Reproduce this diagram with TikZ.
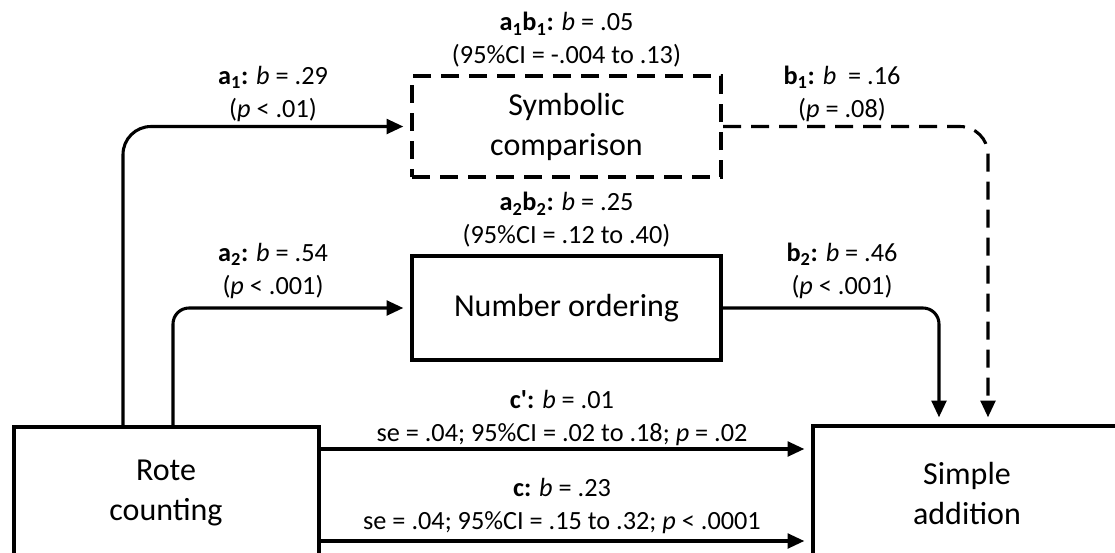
\documentclass[tikz,border=0pt]{standalone}
\usepackage{fontspec}
\setmainfont{Carlito}
\usetikzlibrary{arrows.meta}

\begin{document}
\begin{tikzpicture}[x=0.75pt,y=0.75pt,yscale=-1,xscale=1,
  box/.style={draw, line width=3pt, align=center, inner sep=0pt, font=\fontsize{24}{30}\selectfont},
  dbox/.style={box, dash pattern=on 13.5pt off 7.5pt},
  conn/.style={line width=2.3pt, -{Triangle[length=12.5pt,width=11pt]}, shorten >=5pt},
  dconn/.style={conn, dash pattern=on 13.5pt off 7.5pt},
  lbl/.style={align=center, inner sep=0pt, font=\fontsize{19.7}{24.75}\selectfont}]
%set diagram area to 1115 x 553, boxes at the bottom run off the edge
\useasboundingbox (0,0) rectangle (1115,553);
\clip (0,0) rectangle (1115,553);

% Text Node
\node (rote) [box, minimum width=228.75pt, minimum height=99pt] at (166,493) {Rote\\counting};
% Text Node
\node (add) [box, minimum width=231pt, minimum height=102pt] at (967,494) {Simple\\addition};
% Text Node
\node (sym) [dbox, minimum width=231.75pt, minimum height=75.75pt] at (566.5,126.5) {Symbolic\\comparison};
% Text Node
\node (num) [box, minimum width=231.75pt, minimum height=78pt] at (566.5,308) {Number ordering};

% Text Node
\node (lab1) [lbl] at (273,94) {\textbf{a\textsubscript{1}:} \textit{b} = .29\\(\textit{p} < .01)};
% Text Node
\node (lab2) [lbl] at (273,271) {\textbf{a\textsubscript{2}:} \textit{b} = .54\\(\textit{p} < .001)};
% Text Node
\node (lbb1) [lbl] at (842,94) {\textbf{b\textsubscript{1}:} \textit{b}\ \ = .16\\(\textit{p} = .08)};
% Text Node
\node (lbb2) [lbl] at (842,271) {\textbf{b\textsubscript{2}:} \textit{b} = .46\\(\textit{p} < .001)};
% Text Node
\node (lind1) [lbl] at (566.5,40) {\textbf{a\textsubscript{1}b\textsubscript{1}:} \textit{b} = .05\\(95\%CI = -.004 to .13)};
% Text Node
\node (lind2) [lbl] at (566.5,220) {\textbf{a\textsubscript{2}b\textsubscript{2}:} \textit{b} = .25\\(95\%CI = .12 to .40)};
% Text Node
\node (ldir1) [lbl] at (562,418) {\textbf{c\textquotesingle:} \textit{b} = .01\\se = .04; 95\%CI = .02 to .18; \textit{p} = .02};
% Text Node
\node (ldir2) [lbl] at (562,506) {\textbf{c:} \textit{b} = .23\\se = .04; 95\%CI = .15 to .32; \textit{p} < .0001};

\coordinate (a1x) at (123,0);
\coordinate (a2x) at (173,0);
\coordinate (b1x) at (988,0);
\coordinate (b2x) at (939,0);
\coordinate (cpy) at (0,449);
\coordinate (cy) at (0,541);

% Connection
\draw [conn, rounded corners=21pt] (a1x |- rote.north) |- (sym.west);
% Connection
\draw [conn, rounded corners=12pt] (a2x |- rote.north) |- (num.west);
% Connection
\draw [dconn, rounded corners=21pt] (sym.east) -| (b1x |- add.north);
% Connection
\draw [conn, rounded corners=12pt] (num.east) -| (b2x |- add.north);
% Connection
\draw [conn] (cpy -| rote.east) -- (cpy -| add.west);
% Connection
\draw [conn] (cy -| rote.east) -- (cy -| add.west);

\end{tikzpicture}
\end{document}
